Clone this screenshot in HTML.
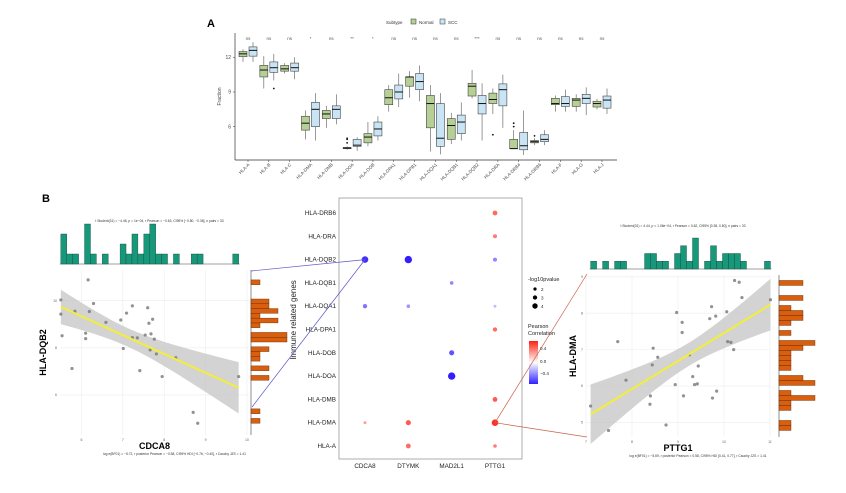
<!DOCTYPE html>
<html><head><meta charset="utf-8"><style>
html,body{margin:0;padding:0;background:#fff;}
svg{display:block;font-family:"Liberation Sans",Arial,sans-serif;}
</style></head><body>
<svg id="fig" width="846" height="493" viewBox="0 0 846 493"></svg>
<script>
// ---------- Panel A data ----------
const genesA = ["HLA-A","HLA-B","HLA-C","HLA-DMA","HLA-DMB","HLA-DOA","HLA-DOB","HLA-DPA1","HLA-DPB1","HLA-DQA1","HLA-DQB1","HLA-DQB2","HLA-DRA","HLA-DRB4","HLA-DRB6","HLA-F","HLA-G","HLA-J"];
// [whiskerLow, q1, median, q3, whiskerHigh]
const normalBox = [[11.6,12.05,12.3,12.5,12.7],[9.3,10.3,10.9,11.3,12.1],[10.6,10.8,11.0,11.3,11.5],[4.9,5.7,6.3,6.9,7.4],[5.9,6.7,7.1,7.4,7.8],[4.0,4.1,4.15,4.2,4.3],[4.3,4.6,5.1,5.4,6.4],[7.3,7.9,8.5,9.2,9.6],[8.5,9.5,10.3,10.3,10.8],[3.85,5.9,8.0,8.7,9.6],[4.5,4.9,6.1,6.7,7.2],[8.45,8.65,9.5,9.75,10.9],[7.1,8.0,8.35,8.9,9.3],[4.1,4.1,4.1,4.9,5.7],[4.4,4.6,4.7,4.8,5.0],[7.3,7.9,8.0,8.45,8.7],[7.3,7.75,8.3,8.45,8.8],[7.5,7.7,8.0,8.2,8.4]];
const sccBox = [[11.6,12.1,12.6,12.9,13.3],[10.0,10.7,11.1,11.6,12.3],[10.1,10.8,11.1,11.5,12.0],[4.8,6.0,7.5,8.1,8.9],[6.2,6.7,7.5,7.8,8.8],[3.9,4.3,4.4,4.9,5.1],[4.8,5.2,5.8,6.4,6.9],[7.7,8.4,9.0,9.6,10.6],[8.2,9.2,9.9,10.6,11.3],[3.6,4.3,5.0,8.0,8.9],[4.8,5.4,6.4,7.0,8.1],[4.8,7.1,8.0,8.7,9.75],[5.9,7.8,9.2,9.7,10.5],[3.55,4.0,4.35,5.5,7.4],[4.4,4.7,4.9,5.3,5.7],[7.3,7.75,8.0,8.6,9.2],[7.0,8.0,8.45,8.8,9.4],[7.1,7.6,8.3,8.65,9.3]];
const normalOutliers = [[],[],[],[],[],[4.6,4.9,5.0],[],[],[],[],[],[],[5.3],[6.0,6.3],[5.2],[],[],[]];
const sccOutliers = [[],[9.3],[],[],[],[],[],[],[],[],[],[],[],[],[],[],[],[]];
const sigLabels = ["ns","ns","ns","*","ns","**","*","ns","ns","ns","ns","***","ns","ns","ns","ns","ns","ns"];
const yTicksA = [6,9,12];

// ---------- Dot plot data ----------
const dotCols = ["CDCA8","DTYMK","MAD2L1","PTTG1"];
const dotRows = ["HLA-DRB6","HLA-DRA","HLA-DQB2","HLA-DQB1","HLA-DQA1","HLA-DPA1","HLA-DOB","HLA-DOA","HLA-DMB","HLA-DMA","HLA-A"];
const dotColIdx = [0,0,0,1,1,1,1,2,2,2,3,3,3,3,3,3,3,3];
const dotRowIdx = [2,4,9,2,4,9,10,3,6,7,0,1,2,4,5,8,9,10];
const dotCorr = [-0.6,-0.4,0.3,-0.65,-0.3,0.5,0.45,-0.35,-0.5,-0.7,0.45,0.4,-0.35,-0.2,0.45,0.5,0.62,0.4];
const dotLogP = [4,2.5,1.5,4.5,2,3,2.8,2,3,4.5,2.8,2.3,2.3,1.5,2.5,2.8,4,2];

// ---------- Scatter 1 (CDCA8 vs HLA-DQB2) ----------
const s1x = [5.50,5.50,5.53,5.77,5.84,6.16,6.19,6.10,6.10,6.29,6.59,6.95,7.01,7.09,7.23,7.23,7.35,7.41,7.54,7.60,7.63,7.68,7.72,7.66,7.76,7.81,7.95,8.28,8.70,8.81,9.80];
const s1y = [10.03,9.43,8.51,7.12,9.55,10.88,9.54,8.62,8.39,9.88,9.08,9.18,7.97,9.47,9.78,8.43,8.42,7.03,8.54,9.70,9.04,8.59,9.21,7.91,8.37,7.74,6.78,7.58,5.26,4.80,6.78];
const s1xTicks = [6,7,8,9,10];
const s1yTicks = [6,8,10];

// ---------- Scatter 2 (PTTG1 vs HLA-DMA) ----------
const s2x = [7.10,7.49,7.69,7.87,8.40,8.39,8.44,8.46,8.56,8.74,8.94,8.97,9.09,9.09,9.12,9.25,9.32,9.36,9.42,9.44,9.69,9.73,9.75,9.82,9.84,10.06,10.08,10.15,10.21,10.23,10.33,10.39,11.01];
const s2y = [5.45,4.78,7.22,6.16,5.73,5.50,6.58,7.04,6.79,4.93,6.04,8.02,7.75,7.47,5.73,6.86,6.26,6.04,6.06,6.55,7.85,8.18,5.67,7.92,5.86,8.04,7.22,7.20,7.00,8.90,8.85,8.43,8.37];
const s2xTicks = [7,8,9,10,11];
const s2yTicks = [5,6,7,8,9];

const NS="http://www.w3.org/2000/svg";
const svg=document.getElementById('fig');
function mk(tag,attrs,parent,text){const e=document.createElementNS(NS,tag);for(const k in attrs)e.setAttribute(k,attrs[k]);if(text!==undefined)e.textContent=text;(parent||svg).appendChild(e);return e;}

// ================= Panel A =================
const gA=mk('g',{});


const aL=235,aR=617,aB=160;
const xA=i=>248+i*(602-248)/17;
const yA=v=>57.3+(12-v)*11.56;
let t=mk('text',{x:207,y:27,'font-size':11,'font-weight':'bold'},gA,'A');

// legend
const leg=mk('g',{},gA);

mk('text',{x:386,y:24,'font-size':4.5,fill:'#333'},leg,'Subtype');
mk('rect',{x:411,y:19,width:5,height:5,fill:'#b5cf95',stroke:'#333','stroke-width':0.5},leg);
mk('text',{x:419,y:24,'font-size':4.5,fill:'#333'},leg,'Normal');
mk('rect',{x:440,y:19,width:5,height:5,fill:'#c9e4f5',stroke:'#333','stroke-width':0.5},leg);
mk('text',{x:448,y:24,'font-size':4.5,fill:'#333'},leg,'SCC');
// axes
mk('line',{x1:aL,y1:33,x2:aL,y2:aB,stroke:'#333','stroke-width':0.7},gA);
mk('line',{x1:aL,y1:aB,x2:aR,y2:aB,stroke:'#333','stroke-width':0.7},gA);
yTicksA.forEach(v=>{mk('line',{x1:aL-2,y1:yA(v),x2:aL,y2:yA(v),stroke:'#333','stroke-width':0.5},gA);
 const tt=mk('text',{x:aL-4,y:yA(v)+1.7,'font-size':5,'text-anchor':'end',fill:'#444'},gA,String(v));
 });
t=mk('text',{x:0,y:0,'font-size':5,'text-anchor':'middle',fill:'#444',transform:`translate(221,${(33+aB)/2}) rotate(-90)`},gA,'Fraction');

function drawBox(cx,b,fill,outs){
 const g=mk('g',{},gA);
 
 mk('line',{x1:cx,y1:yA(b[0]),x2:cx,y2:yA(b[4]),stroke:'#555','stroke-width':0.6},g);
 mk('rect',{x:cx-4,y:yA(b[3]),width:8,height:Math.max(0.6,yA(b[1])-yA(b[3])),fill:fill,stroke:'#444','stroke-width':0.6},g);
 mk('line',{x1:cx-4,y1:yA(b[2]),x2:cx+4,y2:yA(b[2]),stroke:'#111','stroke-width':1},g);
 outs.forEach(o=>mk('circle',{cx:cx,cy:yA(o),r:0.9,fill:'#111'},g));
}
genesA.forEach((gname,i)=>{
 const cx=xA(i);
 drawBox(cx-5,normalBox[i],'#b5cf95',normalOutliers[i]);
 drawBox(cx+5,sccBox[i],'#c9e4f5',sccOutliers[i]);
 const s=mk('text',{x:cx,y:40,'font-size':4.5,'text-anchor':'middle',fill:'#555'},gA,sigLabels[i]);
 
 mk('line',{x1:cx,y1:aB,x2:cx,y2:aB+2,stroke:'#333','stroke-width':0.5},gA);
 const lt=mk('text',{x:0,y:0,'font-size':4.5,'text-anchor':'end',fill:'#444',transform:`translate(${cx+2},${aB+5}) rotate(-45)`},gA,gname);
 
});

// ================= Panel B label =================
t=mk('text',{x:42,y:202,'font-size':11,'font-weight':'bold'},svg,'B');


// ================= Scatter with marginals =================
function linreg(xs,ys){const n=xs.length;const mx=xs.reduce((a,b)=>a+b)/n,my=ys.reduce((a,b)=>a+b)/n;
 let sxx=0,sxy=0;for(let i=0;i<n;i++){sxx+=(xs[i]-mx)**2;sxy+=(xs[i]-mx)*(ys[i]-my);}
 const b=sxy/sxx,a=my-b*mx;let sse=0;for(let i=0;i<n;i++)sse+=(ys[i]-a-b*xs[i])**2;
 return {a,b,mx,sxx,se:Math.sqrt(sse/(n-2)),n};}
function scatter(o){
 const g=mk('g',{});
 
 const X=v=>o.L+(v-o.xd[0])/(o.xd[1]-o.xd[0])*(o.R-o.L);
 const Y=v=>o.B-(v-o.yd[0])/(o.yd[1]-o.yd[0])*(o.B-o.T);
 // grid
 o.xt.forEach(v=>{mk('line',{x1:X(v),y1:o.T,x2:X(v),y2:o.B,stroke:'#ececec','stroke-width':0.6},g);
  const tt=mk('text',{x:X(v),y:o.B+6,'font-size':3.5,'text-anchor':'middle',fill:'#666'},g,String(v));
  });
 o.yt.forEach(v=>{mk('line',{x1:o.L,y1:Y(v),x2:o.R,y2:Y(v),stroke:'#ececec','stroke-width':0.6},g);
  const tt=mk('text',{x:o.L-3,y:Y(v)+1.2,'font-size':3.5,'text-anchor':'end',fill:'#666'},g,String(v));
  });
 // regression band
 const r=linreg(o.xs,o.ys);const xmin=Math.min(...o.xs),xmax=Math.max(...o.xs);
 let up=[],lo=[];for(let k=0;k<=40;k++){const xv=xmin+(xmax-xmin)*k/40;const yv=r.a+r.b*xv;
  const h=2.04*r.se*Math.sqrt(1/r.n+(xv-r.mx)**2/r.sxx);up.push([X(xv),Y(yv+h)]);lo.push([X(xv),Y(yv-h)]);}
 const band=mk('path',{d:'M'+up.map(p=>p.join(',')).join('L')+'L'+lo.reverse().map(p=>p.join(',')).join('L')+'Z',fill:'#c8c8c8','fill-opacity':0.8},g);
 
 o.xs.forEach((xv,i)=>{const c=mk('circle',{cx:X(xv),cy:Y(o.ys[i]),r:1.6,fill:'#777','fill-opacity':0.8},g);
  });
 const ln=mk('line',{x1:X(xmin),y1:Y(r.a+r.b*xmin),x2:X(xmax),y2:Y(r.a+r.b*xmax),stroke:'#f2ee3a','stroke-width':2},g);
 
 // top histogram
 const nb=30;const bw=(xmax-xmin)/nb;const cnt=new Array(nb).fill(0);
 o.xs.forEach(v=>{cnt[Math.min(nb-1,Math.floor((v-xmin)/bw))]++;});
 const mc=Math.max(...cnt);
 mk('line',{x1:X(xmin)-1,y1:o.hB,x2:X(xmax)+1,y2:o.hB,stroke:'#444','stroke-width':0.6},g);
 cnt.forEach((c,i)=>{if(!c)return;const h=c/mc*o.hH;const b=mk('rect',{x:X(xmin+i*bw),y:o.hB-h,width:X(xmin+bw)-X(xmin),height:h,fill:'#17987a',stroke:'#1a4a3a','stroke-width':0.4},g);
  });
 // right histogram
 const ymin=Math.min(...o.ys),ymax=Math.max(...o.ys);const bh=(ymax-ymin)/nb;const cy=new Array(nb).fill(0);
 o.ys.forEach(v=>{cy[Math.min(nb-1,Math.floor((v-ymin)/bh))]++;});
 mk('line',{x1:o.hL,y1:o.T,x2:o.hL,y2:o.B,stroke:'#444','stroke-width':0.6},g);
 cy.forEach((c,i)=>{if(!c)return;const y1=Y(ymin+(i+1)*bh),y0=Y(ymin+i*bh);const b=mk('rect',{x:o.hL,y:y1,width:c*o.hU,height:y0-y1,fill:'#d95f0e',stroke:'#5a2a08','stroke-width':0.4},g);
  });
 // titles
 let tt=mk('text',{x:(o.L+o.R)/2,y:o.B+14,'font-size':9,'font-weight':'bold','text-anchor':'middle'},g,o.xl);
 
 tt=mk('text',{x:0,y:0,'font-size':9,'font-weight':'bold','text-anchor':'middle',transform:`translate(${o.yx},${(o.T+o.B)/2}) rotate(-90)`},g,o.yl);
 
 tt=mk('text',{x:(o.L+o.R)/2+5,y:o.sy,'font-size':3.3,'text-anchor':'middle',fill:'#333'},g,o.stat);
 
 tt=mk('text',{x:(o.L+o.R)/2+20,y:o.B+20,'font-size':3.3,'text-anchor':'middle',fill:'#333'},g,o.bf);
 
}
scatter({name:'scatter-cdca8-dqb2',xs:s1x,ys:s1y,L:60,R:249,T:270,B:435,xd:[5.48,10.05],yd:[4.3,11.3],xt:s1xTicks,yt:s1yTicks,
 hB:264,hH:40,hL:251,hU:9,xl:'CDCA8',yl:'HLA-DQB2',yx:46,sy:222,
 stat:'t Student(31) = −4.46, p = 1e−04, r Pearson = −0.63, CI95% [−0.80, −0.36], n pairs = 33',
 bf:'log e(BF01) = −5.72, r posterior Pearson = −0.58, CI95% HDI [−0.76, −0.40], r Cauchy JZS = 1.41'});
scatter({name:'scatter-pttg1-dma',xs:s2x,ys:s2y,L:586,R:770,T:275,B:437,xd:[7,11],yd:[4.6,9.05],xt:s2xTicks,yt:s2yTicks,
 hB:269,hH:31,hL:779,hU:12,xl:'PTTG1',yl:'HLA-DMA',yx:576,sy:227,
 stat:'t Student(31) = 4.44, p = 1.06e−04, r Pearson = 0.62, CI95% [0.38, 0.80], n pairs = 33',
 bf:'log e(BF01) = −5.69, r posterior Pearson = 0.58, CI95% HDI [0.41, 0.77], r Cauchy JZS = 1.41'});

// ================= Dot plot =================
const gD=mk('g',{});

const dL=339,dR=522,dT=198,dB=459;
const xD=i=>365+i*(495-365)/3;
const yD=j=>213+j*(446-213)/10;
mk('rect',{x:dL,y:dT,width:dR-dL,height:dB-dT,fill:'#fff',stroke:'#777','stroke-width':0.6},gD);
dotRows.forEach((r,j)=>{const tt=mk('text',{x:dL-3,y:yD(j)+2,'font-size':6.3,'text-anchor':'end',fill:'#222'},gD,r);
 });
dotCols.forEach((c,i)=>{const tt=mk('text',{x:xD(i),y:468,'font-size':6.3,'text-anchor':'middle',fill:'#222'},gD,c);
 });
t=mk('text',{x:0,y:0,'font-size':8,'text-anchor':'middle',fill:'#222',transform:`translate(296,320) rotate(-90)`},gD,'Immune related genes');

function corrColor(v){const u=Math.max(-1,Math.min(1,v/0.65));
 if(u>=0){return `rgb(255,${Math.round(255-u*(255-40))},${Math.round(255-u*(255-30))})`;}
 const w=-u;return `rgb(${Math.round(255-w*(255-50))},${Math.round(255-w*(255-30))},255)`;}
const rD=v=>0.3+0.75*v;
dotCorr.forEach((c,k)=>{const d=mk('circle',{cx:xD(dotColIdx[k]),cy:yD(dotRowIdx[k]),r:rD(dotLogP[k]),fill:corrColor(c)},gD);
 });
// legends
const lg=mk('g',{},gD);

mk('text',{x:528,y:281,'font-size':5.5,fill:'#222'},lg,'-log10pvalue');
[2,3,4].forEach((v,i)=>{mk('circle',{cx:535,cy:289+i*8.5,r:0.5+0.55*v,fill:'#000'},lg);
 mk('text',{x:541,y:291+i*8.5,'font-size':4.5,fill:'#222'},lg,String(v));});
const lc=mk('g',{},gD);

mk('text',{x:528,y:328,'font-size':5.5,fill:'#222'},lc,'Pearson');
mk('text',{x:528,y:335,'font-size':5.5,fill:'#222'},lc,'Correlation');
const defs=mk('defs',{});
const lgd=mk('linearGradient',{id:'cg',x1:0,y1:0,x2:0,y2:1},defs);
mk('stop',{offset:'0','stop-color':'#ff2010'},lgd);mk('stop',{offset:'0.5','stop-color':'#ffffff'},lgd);mk('stop',{offset:'1','stop-color':'#3020ff'},lgd);
mk('rect',{x:529,y:341,width:9,height:43,fill:'url(#cg)'},lc);
[['0.4',350],['0.0',363],['−0.4',375]].forEach(p=>mk('text',{x:540,y:p[1],'font-size':4.5,fill:'#222'},lc,p[0]));

// ================= Connector lines =================
const cn=mk('g',{});

mk('line',{x1:xD(0),y1:yD(2),x2:251,y2:271,stroke:'#5a55c8','stroke-width':0.7},cn);
mk('line',{x1:xD(0),y1:yD(2),x2:252,y2:407,stroke:'#5a55c8','stroke-width':0.7},cn);
mk('line',{x1:xD(3),y1:yD(9),x2:587,y2:274,stroke:'#c8604a','stroke-width':0.7},cn);
mk('line',{x1:xD(3),y1:yD(9),x2:587,y2:437,stroke:'#c8604a','stroke-width':0.7},cn);
</script>
</body></html>
